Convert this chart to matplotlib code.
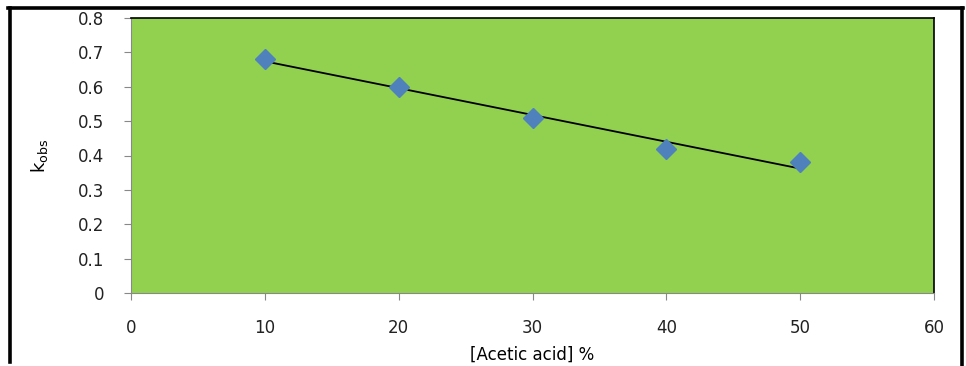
import matplotlib.pyplot as plt
import numpy as np
from matplotlib.lines import Line2D

# datos
acido = [10, 20, 30, 40, 50]
kobs = [0.68, 0.60, 0.51, 0.42, 0.38]
xticks = [0, 10, 20, 30, 40, 50, 60]
yticks = [0, 0.1, 0.2, 0.3, 0.4, 0.5, 0.6, 0.7, 0.8]

fig = plt.figure(figsize=(9.66, 3.66), dpi=100)
ax = fig.add_axes([131 / 966, 1 - 293 / 366, (934 - 131) / 966, (293 - 18) / 366])
ax.set_facecolor('#92D050')

# recta de ajuste lineal
m, b = np.polyfit(acido, kobs, 1)
xs = np.array([acido[0], acido[-1]])
ax.plot(xs, m * xs + b, color='black', lw=1.3, zorder=2)

ax.plot(acido, kobs, 'D', color='#4F81BD', markersize=10, zorder=3)

ax.set_xlim(0, 60)
ax.set_ylim(0, 0.8)
ax.set_xticks(xticks)
ax.set_yticks(yticks)
ax.set_xticklabels([str(t) for t in xticks])
ax.set_yticklabels(['0'] + ['%.1f' % t for t in yticks[1:]])
ax.tick_params(direction='out', length=5, color='#888888', labelsize=12,
               labelcolor='#222222')
ax.tick_params(axis='y', pad=14)
ax.tick_params(axis='x', pad=14)

for s in ['left', 'bottom']:
    ax.spines[s].set_color('#888888')
for s in ['top', 'right']:
    ax.spines[s].set_color('black')
    ax.spines[s].set_linewidth(1.2)

ax.set_xlabel('[Acetic acid] %', fontsize=12, labelpad=6)
ax.set_ylabel(r'k$_{\mathrm{obs}}$', fontsize=13, labelpad=20)

# marco negro del recuadro
lw = 2.6
fig.add_artist(Line2D([9.5 / 966, 9.5 / 966], [0.01, 1 - 7.5 / 366], color='black', lw=lw))
fig.add_artist(Line2D([8 / 966, 963 / 966], [1 - 7.5 / 366, 1 - 7.5 / 366], color='black', lw=lw))
fig.add_artist(Line2D([961.5 / 966, 961.5 / 966], [0.0, 1 - 7.5 / 366], color='black', lw=lw))

fig.savefig('out.png', dpi=100)
